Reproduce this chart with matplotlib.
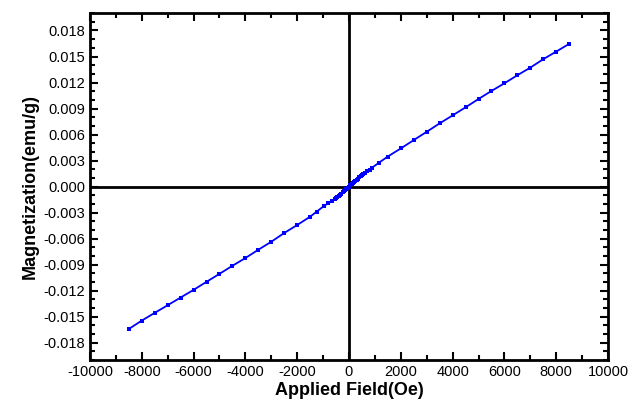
import matplotlib
matplotlib.use("Agg")
import matplotlib.pyplot as plt
from matplotlib.ticker import MultipleLocator, FormatStrFormatter

plt.rcParams['font.family'] = ['Liberation Sans', 'DejaVu Sans']
plt.rcParams['axes.unicode_minus'] = False

field = [-8500, -8000, -7500, -7000, -6500, -6000, -5500, -5000, -4500, -4000,
         -3500, -3000, -2500, -2000, -1500, -1250, -950, -800, -650, -550,
         -500, -450, -400, -350, -300, -250, -200, -150, -100, -50, 0,
         50, 100, 150, 200, 250, 300, 350, 400, 450, 500, 550, 600, 700, 800,
         900, 1150, 1500, 2000, 2500, 3000, 3500, 4000, 4500, 5000, 5500,
         6000, 6500, 7000, 7500, 8000, 8500]
magnet = [-0.01642, -0.01545, -0.01456, -0.01368, -0.01279, -0.01191, -0.01098,
          -0.01006, -0.00913, -0.00824, -0.00728, -0.00636, -0.00535, -0.00443,
          -0.00347, -0.00289, -0.00220, -0.00192, -0.00169, -0.00146,
          -0.00133, -0.00120, -0.00107, -0.00093, -0.00080, -0.00067,
          -0.00054, -0.00040, -0.00027, -0.00013, 0.0,
          0.00013, 0.00027, 0.00040, 0.00054, 0.00067, 0.00080, 0.00093,
          0.00107, 0.00120, 0.00133, 0.00146, 0.00158, 0.00178, 0.00197,
          0.00220, 0.00274, 0.00347, 0.00440, 0.00536, 0.00632, 0.00729,
          0.00821, 0.00914, 0.01010, 0.01103, 0.01191, 0.01284, 0.01372,
          0.01469, 0.01557, 0.01646]

fig = plt.figure(figsize=(6.38, 4.11), dpi=100)
ax = fig.add_axes([0.141, 0.124, 0.812, 0.844])

ax.plot(field, magnet, color='#0000FF', lw=1.3, marker='s', markersize=3.2,
        markeredgewidth=0, zorder=3)
ax.axhline(0, color='black', lw=2, zorder=2)
ax.axvline(0, color='black', lw=2, zorder=2)

ax.set_xlim(-10000, 10000)
ax.set_ylim(-0.02, 0.02)
ax.xaxis.set_major_locator(MultipleLocator(2000))
ax.xaxis.set_minor_locator(MultipleLocator(1000))
ax.set_yticks([i * 0.003 for i in range(-6, 7)])
ax.yaxis.set_minor_locator(MultipleLocator(0.001))
ax.yaxis.set_major_formatter(FormatStrFormatter('%.3f'))

ax.tick_params(which='both', direction='in', top=True, right=True,
               width=1.5, labelsize=10.5, colors='black')
ax.tick_params(which='major', length=6)
ax.tick_params(which='minor', length=3.5)
for s in ax.spines.values():
    s.set_linewidth(2)

ax.set_xlabel('Applied Field(Oe)', fontsize=13, fontweight='bold', labelpad=2)
ax.set_ylabel('Magnetization(emu/g)', fontsize=13, fontweight='bold', labelpad=3)

fig.savefig('out.png', dpi=100)
